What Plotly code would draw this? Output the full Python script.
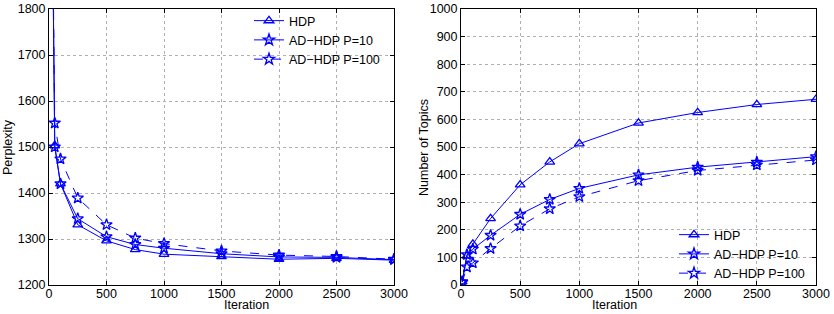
import plotly.graph_objects as go

iterations = [10, 50, 100, 250, 500, 750, 1000, 1500, 2000, 2500, 3000]

perp_hdp = [2500, 1503, 1420, 1331, 1296, 1277, 1267, 1262, 1256, 1258, 1254]
perp_p10 = [2500, 1500, 1420, 1344, 1305, 1288, 1280, 1268, 1261, 1260, 1255]
perp_p100 = [2500, 1552, 1474, 1389, 1331, 1302, 1290, 1274, 1265, 1262, 1256]

topics_hdp = [12, 105, 148, 241, 363, 446, 512, 587, 625, 654, 673]
topics_p10 = [12, 110, 130, 180, 256, 310, 350, 399, 427, 445, 465]
topics_p100 = [10, 65, 80, 132, 214, 276, 320, 378, 415, 435, 453]

series_names = ["HDP", "AD\u2212HDP P=10", "AD\u2212HDP P=100"]
x_ticks = [0, 500, 1000, 1500, 2000, 2500, 3000]
perp_ticks = [1200, 1300, 1400, 1500, 1600, 1700, 1800]
topic_ticks = list(range(0, 1001, 100))

BLUE = "#0000ff"
FONT = "Liberation Sans, Arial, sans-serif"
FS = 12.5

styles = [
    dict(symbol="triangle-up-open", size=8.5, dash="solid"),
    dict(symbol="star-open", size=8.5, dash="solid"),
    dict(symbol="star-open", size=8.5, dash="dash"),
]

fig = go.Figure()

for ys, name, st in zip([perp_hdp, perp_p10, perp_p100], series_names, styles):
    fig.add_trace(go.Scatter(
        x=iterations, y=ys, name=name, mode="lines+markers",
        line=dict(color=BLUE, width=1, dash=st["dash"]),
        marker=dict(symbol=st["symbol"], size=st["size"], color=BLUE,
                    line=dict(color=BLUE, width=1.3)),
        xaxis="x", yaxis="y", legend="legend",
    ))

for ys, name, st in zip([topics_hdp, topics_p10, topics_p100], series_names, styles):
    fig.add_trace(go.Scatter(
        x=iterations, y=ys, name=name, mode="lines+markers",
        line=dict(color=BLUE, width=1, dash=st["dash"]),
        marker=dict(symbol=st["symbol"], size=st["size"], color=BLUE,
                    line=dict(color=BLUE, width=1.3)),
        xaxis="x2", yaxis="y2", legend="legend2",
    ))

W, H = 834, 314
ydom = [(H - 285) / H, (H - 9) / H]

axis_common = dict(
    showline=True, linecolor="black", linewidth=1, mirror="ticks",
    ticks="inside", ticklen=4, tickcolor="black",
    showgrid=True, gridcolor="#b0b0b0", griddash="dot", gridwidth=1,
    zeroline=False, automargin=False,
    tickfont=dict(family=FONT, size=FS, color="black"),
)

legend_common = dict(
    xanchor="left", yanchor="middle", bgcolor="rgba(0,0,0,0)",
    font=dict(family=FONT, size=FS, color="black"),
    tracegroupgap=0, itemwidth=30,
)

fig.update_layout(
    width=W, height=H,
    margin=dict(l=0, r=0, t=0, b=0, autoexpand=False),
    plot_bgcolor="white", paper_bgcolor="white",
    font=dict(family=FONT, size=FS, color="black"),
    xaxis=dict(domain=[49 / W, 394 / W], range=[0, 3000], tickvals=x_ticks,
               anchor="y", ticklabelstandoff=-3, **axis_common),
    yaxis=dict(domain=ydom, range=[1200, 1800], tickvals=perp_ticks,
               anchor="x", **axis_common),
    xaxis2=dict(domain=[461 / W, 816 / W], range=[0, 3000], tickvals=x_ticks,
                anchor="y2", ticklabelstandoff=-3, **axis_common),
    yaxis2=dict(domain=ydom, range=[0, 1000], tickvals=topic_ticks,
                anchor="x2", **axis_common),
    legend=dict(x=249 / W, y=1 - 40 / H, **legend_common),
    legend2=dict(x=674 / W, y=1 - 254 / H, **legend_common),
    annotations=[
        dict(text="Iteration", x=(49 + 394) / 2 / W, y=0, xref="paper",
             yref="paper", yanchor="bottom", showarrow=False,
             font=dict(family=FONT, size=FS)),
        dict(text="Iteration", x=(461 + 816) / 2 / W, y=0, xref="paper",
             yref="paper", yanchor="bottom", showarrow=False,
             font=dict(family=FONT, size=FS)),
        dict(text="Perplexity", x=8 / W, y=1 - 147 / H, xref="paper", yref="paper",
             xanchor="center", showarrow=False, textangle=-90,
             font=dict(family=FONT, size=FS)),
        dict(text="Number of Topics", x=424 / W, y=1 - 147 / H, xref="paper",
             yref="paper", xanchor="center", showarrow=False, textangle=-90,
             font=dict(family=FONT, size=FS)),
    ],
)

fig.write_html(
    "out.html",
    post_script="document.body.style.margin='0';document.body.style.overflow='hidden';",
)
